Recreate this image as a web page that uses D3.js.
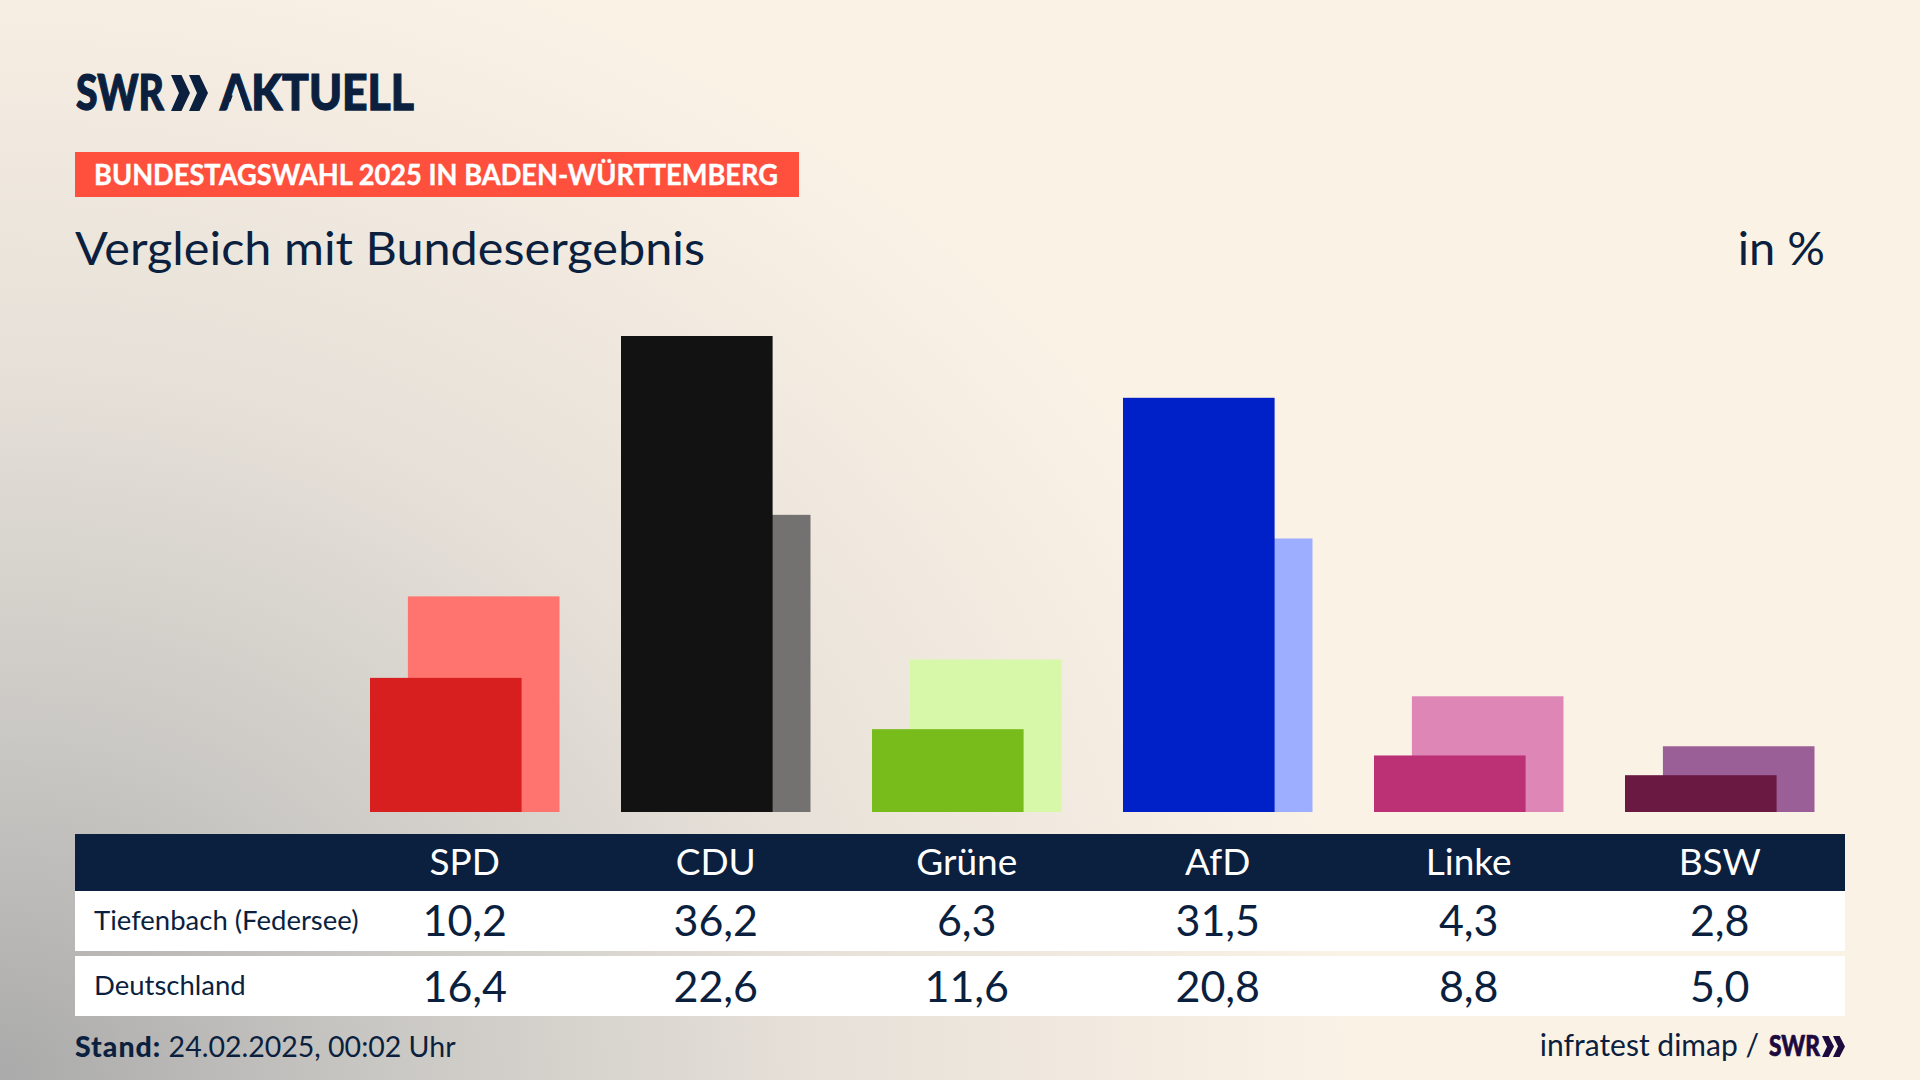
<!DOCTYPE html>
<html>
<head>
<meta charset="utf-8">
<title>Vergleich mit Bundesergebnis</title>
<script src="https://d3js.org/d3.v7.min.js"></script>
<style>
  html, body { margin: 0; padding: 0; background: #fbf2e6; }
  svg { display: block; }
  text { font-family: Lato, "Noto Sans", sans-serif; fill: #0b1f3f; }
</style>
</head>
<body>
<svg id="chart" width="1920" height="1080"></svg>
<script>
var parties = ["SPD", "CDU", "Grüne", "AfD", "Linke", "BSW"];
var regionValues = [10.2, 36.2, 6.3, 31.5, 4.3, 2.8];
var bundValues = [16.4, 22.6, 11.6, 20.8, 8.8, 5.0];
var regionColors = ["#d81f1f", "#121212", "#78bc1b", "#0021c8", "#bc3076", "#6a1a42"];
var bundColors = ["#ff746f", "#737270", "#d7f7a9", "#9dadff", "#de87b6", "#9b5f98"];
var rowLabels = ["Tiefenbach (Federsee)", "Deutschland"];

var NAVY = "#0b1f3f";
var svg = d3.select("#chart");

// Background glow from the bottom left corner
var defs = svg.append("defs");
var grad = defs.append("radialGradient")
  .attr("id", "bg")
  .attr("gradientUnits", "userSpaceOnUse")
  .attr("cx", 0).attr("cy", 0).attr("r", 1)
  .attr("gradientTransform", "translate(0,1080) scale(1350,1180)");
[[0, "#aaaaaa"], [0.3, "#cbc9c5"], [0.6, "#e6e0d8"], [1, "#fbf2e6"]].forEach(function(s) {
  grad.append("stop").attr("offset", s[0]).attr("stop-color", s[1]);
});
svg.append("rect").attr("width", 1920).attr("height", 1080).attr("fill", "url(#bg)");

// The logo A has no crossbar, so cut its inside out of the text
defs.append("clipPath").attr("id", "noBar").append("path")
  .attr("clip-rule", "evenodd")
  .attr("d", "M0 0H1920V1080H0Z M236.5 84 L227 112 L246 112Z");

// Logo
function chevrons(g, x, y, cw, h, gap, fill) {
  [0, gap].forEach(function(dx) {
    g.append("path")
      .attr("fill", fill)
      .attr("d", d3.line()([
        [x + dx, y], [x + dx + cw * 0.55, y], [x + dx + cw, y + h / 2],
        [x + dx + cw * 0.55, y + h], [x + dx, y + h], [x + dx + cw * 0.42, y + h / 2]
      ]) + "Z");
  });
}
function logoText(g, xPos, yPos, size, len, label, fill) {
  return g.append("text").attr("x", xPos).attr("y", yPos).attr("font-size", size).attr("font-weight", 900)
    .attr("textLength", len).attr("lengthAdjust", "spacingAndGlyphs")
    .style("fill", fill).style("stroke", fill).style("stroke-width", size / 40)
    .text(label);
}
var logo = svg.append("g");
logoText(logo, 76, 110, 50, 88, "SWR", NAVY);
chevrons(logo, 171, 75, 19, 36, 18, NAVY);
logoText(logo, 220, 110, 50, 194, "AKTUELL", NAVY).attr("clip-path", "url(#noBar)");

// Badge and title
svg.append("rect").attr("x", 75).attr("y", 152).attr("width", 724).attr("height", 45).attr("fill", "#ff4f3d");
svg.append("text").attr("x", 94).attr("y", 185).attr("font-size", 28).attr("font-weight", 700)
  .attr("textLength", 684).attr("lengthAdjust", "spacingAndGlyphs")
  .style("fill", "#ffffff").style("stroke", "#ffffff").style("stroke-width", 0.4)
  .text("BUNDESTAGSWAHL 2025 IN BADEN-WÜRTTEMBERG");
svg.append("text").attr("x", 75).attr("y", 265).attr("font-size", 47)
  .attr("textLength", 630).attr("lengthAdjust", "spacingAndGlyphs").text("Vergleich mit Bundesergebnis");
svg.append("text").attr("x", 1825).attr("y", 265).attr("font-size", 47).attr("text-anchor", "end").text("in %");

// Scales
var x = d3.scaleBand().domain(parties).range([370, 1814.5]).paddingInner(0.245).paddingOuter(0);
var y = d3.scaleLinear().domain([0, 36.2]).range([812, 336]);
var barW = x.bandwidth() * 0.8;

// Bars, Bund behind, region in front
var rows = parties.map(function(p, i) {
  return { party: p, region: regionValues[i], bund: bundValues[i], rc: regionColors[i], bc: bundColors[i] };
});
svg.append("g").selectAll("rect").data(rows).enter().append("rect")
  .attr("x", function(d) { return x(d.party) + x.bandwidth() - barW; })
  .attr("y", function(d) { return y(d.bund); })
  .attr("width", barW)
  .attr("height", function(d) { return y(0) - y(d.bund); })
  .attr("fill", function(d) { return d.bc; });
svg.append("g").selectAll("rect").data(rows).enter().append("rect")
  .attr("x", function(d) { return x(d.party); })
  .attr("y", function(d) { return y(d.region); })
  .attr("width", barW)
  .attr("height", function(d) { return y(0) - y(d.region); })
  .attr("fill", function(d) { return d.rc; });

// Table
svg.append("rect").attr("x", 75).attr("y", 834).attr("width", 1770).attr("height", 57).attr("fill", NAVY);
svg.append("rect").attr("x", 75).attr("y", 891).attr("width", 1770).attr("height", 60).attr("fill", "#ffffff");
svg.append("rect").attr("x", 75).attr("y", 956).attr("width", 1770).attr("height", 60).attr("fill", "#ffffff");

var header = svg.append("g").attr("transform", "translate(0,849)")
  .call(d3.axisBottom(x).tickSize(0).tickPadding(0));
header.select(".domain").remove();
header.attr("font-family", null);
header.selectAll("text").attr("font-size", 37).style("fill", "#ffffff");

function drawRow(values, label, labelY, valueY) {
  svg.append("text").attr("x", 94).attr("y", labelY).attr("font-size", 27.5).text(label);
  svg.append("g").selectAll("text").data(values).enter().append("text")
    .attr("x", function(d, i) { return x(parties[i]) + x.bandwidth() / 2; })
    .attr("y", valueY)
    .attr("text-anchor", "middle")
    .attr("font-size", 43)
    .text(function(d) { return d.toFixed(1).replace(".", ","); });
}
drawRow(regionValues, rowLabels[0], 930, 936);
drawRow(bundValues, rowLabels[1], 995, 1002);

// Footer
var stand = svg.append("text").attr("x", 75).attr("y", 1057).attr("font-size", 28.5);
stand.append("tspan").attr("font-weight", 900).style("letter-spacing", "1px").text("Stand:");
stand.append("tspan").text(" 24.02.2025, 00:02 Uhr");
svg.append("text").attr("x", 1759).attr("y", 1056).attr("font-size", 30).attr("text-anchor", "end").text("infratest dimap /");
var small = svg.append("g");
logoText(small, 1769, 1056, 28, 51, "SWR", "#1d0b3f");
chevrons(small, 1822, 1036, 12, 21, 11, "#1d0b3f");
</script>
</body>
</html>
